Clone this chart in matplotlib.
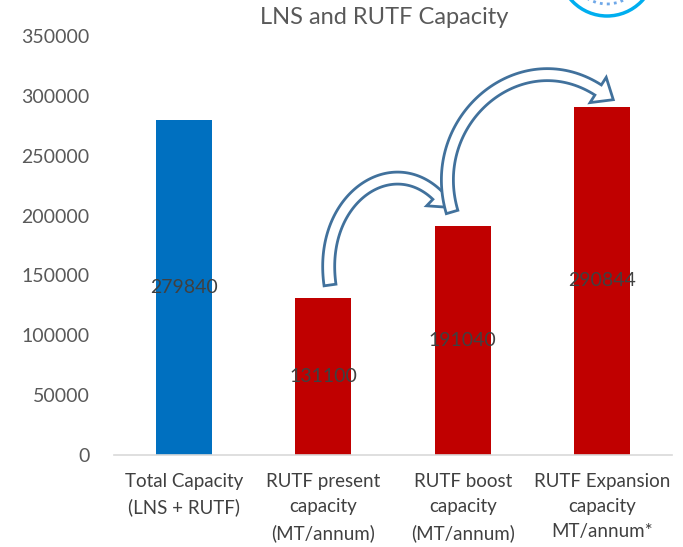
import matplotlib
matplotlib.use("Agg")
import numpy as np
import matplotlib.pyplot as plt
from matplotlib.patches import Ellipse, Polygon
from matplotlib.transforms import IdentityTransform

categories = ["Total Capacity\n(LNS + RUTF)", "RUTF present\ncapacity\n(MT/annum)",
              "RUTF boost\ncapacity\n(MT/annum)", "RUTF Expansion\ncapacity\nMT/annum*"]
values = [279840, 131100, 191040, 290844]
colors = ["#0070C0", "#C00000", "#C00000", "#C00000"]
yticks = [0, 50000, 100000, 150000, 200000, 250000, 300000, 350000]
title = "LNS and RUTF Capacity"

plt.rcParams['font.family'] = ['Lato', 'DejaVu Sans']

fig = plt.figure(figsize=(6.83, 5.47), dpi=100)
ax = fig.add_axes([114.3/683, 1-455/547, (671.7-114.3)/683, (455-36)/547])

x = list(range(len(values)))
ax.bar(x, values, width=0.4, color=colors, zorder=2)
for xi, v in zip(x, values):
    ax.text(xi, v/2, f"{v}", ha="center", va="center", fontsize=14, color="#404040", zorder=5)

ax.set_xlim(-0.5, 3.5)
ax.set_ylim(0, 350000)
ax.set_yticks(yticks)
ax.set_yticklabels([str(t) for t in yticks], fontsize=14, color="#595959")
ax.set_xticks(x)
ax.set_xticklabels(categories, fontsize=13.5, color="#404040", linespacing=1.58)
ax.tick_params(axis="both", length=0)
ax.tick_params(axis="y", pad=18)
ax.tick_params(axis="x", pad=13)
for s in ["top", "right", "left"]:
    ax.spines[s].set_visible(False)
ax.spines["bottom"].set_color("#D9D9D9")
ax.spines["bottom"].set_linewidth(1.2)

fig.text(0.562, 0.968, title, ha="center", va="center", fontsize=17, color="#595959")


def block_arrow(ctrl_data, tail_w=12, head_w=30, head_l=18):
    P = ax.transData.transform(np.array(ctrl_data))
    t = np.linspace(0, 1, 80)[:, None]
    pts = ((1-t)**3)*P[0] + 3*((1-t)**2)*t*P[1] + 3*(1-t)*(t**2)*P[2] + (t**3)*P[3]
    der = 3*((1-t)**2)*(P[1]-P[0]) + 6*(1-t)*t*(P[2]-P[1]) + 3*(t**2)*(P[3]-P[2])
    d = der / np.linalg.norm(der, axis=1)[:, None]
    n = np.column_stack([-d[:, 1], d[:, 0]])
    left = pts + n*tail_w/2
    right = pts - n*tail_w/2
    pe, de, ne = pts[-1], d[-1], n[-1]
    head = [pe + ne*head_w/2, pe + de*head_l, pe - ne*head_w/2]
    poly = np.vstack([left, head, right[::-1]])
    patch = Polygon(poly, closed=True, facecolor="white", edgecolor="#41719C",
                    linewidth=2, transform=IdentityTransform(), zorder=4, clip_on=False)
    ax.add_patch(patch)


block_arrow([(1.048, 142000), (0.962, 213000), (1.479, 254800), (1.816, 217200)])
block_arrow([(1.924, 203000), (1.730, 279800), (2.412, 346600), (2.972, 304900)])

# logo fragment at top right
logo = Ellipse((607/683, 1 + 32/547), 96/683, 96/547, transform=fig.transFigure,
               fill=False, edgecolor="#00AEEF", linewidth=2.5, clip_on=False)
fig.patches.append(logo)
inner = Ellipse((607/683, 1 + 32/547), 74/683, 72/547, transform=fig.transFigure,
                fill=False, edgecolor="#6FA8E8", linewidth=2, linestyle=(0, (1, 1.5)), clip_on=False)
fig.patches.append(inner)

fig.savefig("out.png", dpi=100)
